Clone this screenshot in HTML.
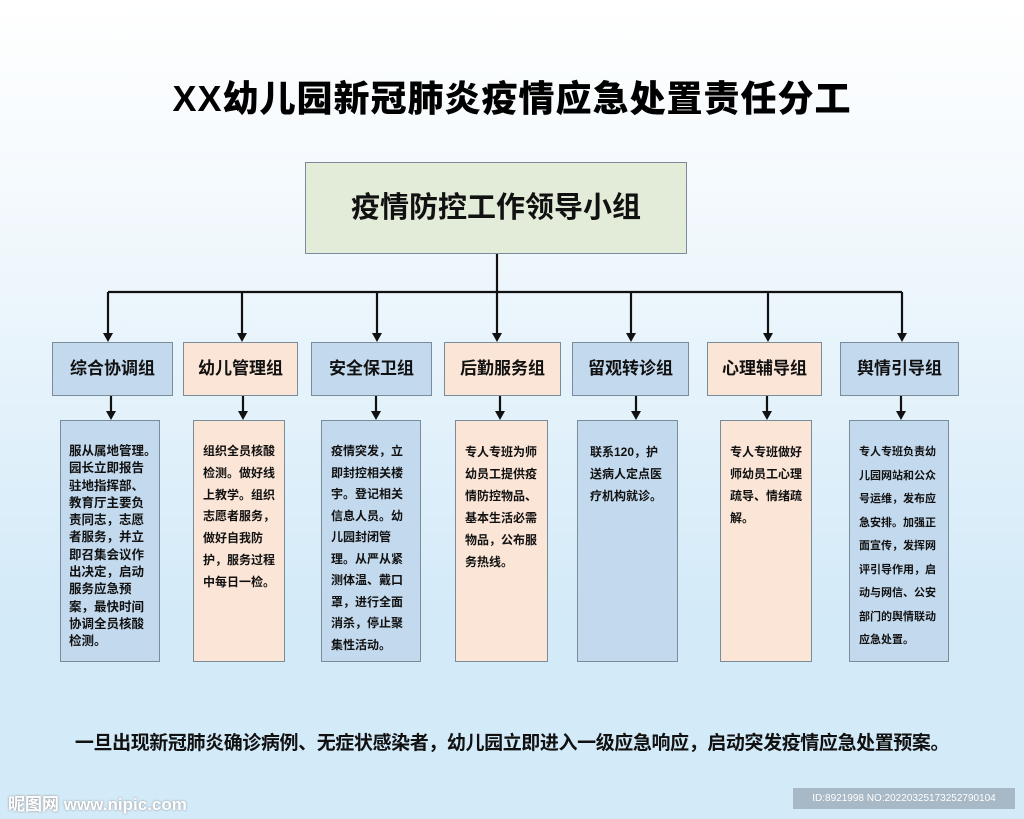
<!DOCTYPE html>
<html><head><meta charset="utf-8"><style>
*{margin:0;padding:0;box-sizing:border-box}
body{width:1024px;height:819px;overflow:hidden;position:relative;background:linear-gradient(180deg,#ffffff 0%,#f3f9fd 25%,#d3eaf8 75%,#d3eaf8 100%);font-family:"Liberation Sans","Noto Sans CJK SC",sans-serif;font-weight:bold;color:#111}
.a{position:absolute}
.title{left:0;width:1024px;top:70px;text-align:center;font-size:36px;font-weight:900;letter-spacing:1px;color:#000}
.top{left:305px;top:162px;width:382px;height:92px;background:#e2ecd8;border:1.5px solid #7a8c99;font-size:29px;text-align:center;line-height:90px}
.h{top:342px;height:54px;border:1.5px solid #7a8c99;font-size:17px;text-align:center;line-height:52px}
.b{top:420px;height:242px;border:1.5px solid #7a8c99;font-size:12px;padding:0 9px}
.bl{background:#c3d9ee}.pe{background:#fbe5d6}
.foot{left:0;width:1024px;top:728px;text-align:center;font-size:19px;letter-spacing:-0.4px}
.wm{left:8px;top:790px;font-size:17px;color:#fff;text-shadow:0 0 2px #888;font-weight:bold}
.id{left:793px;top:788px;width:222px;height:21px;background:#a7b8c6;color:#fff;font-size:10px;font-weight:normal;line-height:21px;text-align:center}
</style></head><body>
<div class="a title">XX幼儿园新冠肺炎疫情应急处置责任分工</div>
<div class="a top">疫情防控工作领导小组</div>
<svg class="a" style="left:0;top:0" width="1024" height="819">
<g stroke="#111" stroke-width="2.2" fill="none">
<line x1="497" y1="254" x2="497" y2="292"/>
<line x1="108" y1="292" x2="902" y2="292"/>
<line x1="108" y1="292" x2="108" y2="334"/><line x1="242" y1="292" x2="242" y2="334"/><line x1="377" y1="292" x2="377" y2="334"/><line x1="497" y1="292" x2="497" y2="334"/><line x1="631" y1="292" x2="631" y2="334"/><line x1="768" y1="292" x2="768" y2="334"/><line x1="902" y1="292" x2="902" y2="334"/>
<line x1="111" y1="396" x2="111" y2="412"/><line x1="243" y1="396" x2="243" y2="412"/><line x1="376" y1="396" x2="376" y2="412"/><line x1="500" y1="396" x2="500" y2="412"/><line x1="636" y1="396" x2="636" y2="412"/><line x1="767" y1="396" x2="767" y2="412"/><line x1="901" y1="396" x2="901" y2="412"/>
</g>
<g fill="#111">
<path d="M103,333h10l-5,9z"/><path d="M237,333h10l-5,9z"/><path d="M372,333h10l-5,9z"/><path d="M492,333h10l-5,9z"/><path d="M626,333h10l-5,9z"/><path d="M763,333h10l-5,9z"/><path d="M897,333h10l-5,9z"/>
<path d="M106,411h10l-5,9z"/><path d="M238,411h10l-5,9z"/><path d="M371,411h10l-5,9z"/><path d="M495,411h10l-5,9z"/><path d="M631,411h10l-5,9z"/><path d="M762,411h10l-5,9z"/><path d="M896,411h10l-5,9z"/>
</g></svg>
<div class="a h bl" style="left:52px;width:121px">综合协调组</div>
<div class="a h pe" style="left:183px;width:115px">幼儿管理组</div>
<div class="a h bl" style="left:311px;width:121px">安全保卫组</div>
<div class="a h pe" style="left:444px;width:117px">后勤服务组</div>
<div class="a h bl" style="left:572px;width:117px">留观转诊组</div>
<div class="a h pe" style="left:707px;width:115px">心理辅导组</div>
<div class="a h bl" style="left:840px;width:119px">舆情引导组</div>

<div class="a b bl" style="left:60px;width:100px;padding:22px 0 0 8px;line-height:17.3px;font-size:12.5px;white-space:nowrap">服从属地管理。<br>园长立即报告<br>驻地指挥部、<br>教育厅主要负<br>责同志，志愿<br>者服务，并立<br>即召集会议作<br>出决定，启动<br>服务应急预<br>案，最快时间<br>协调全员核酸<br>检测。</div>
<div class="a b pe" style="left:193px;width:92px;padding-top:20px;line-height:21.8px">组织全员核酸检测。做好线上教学。组织志愿者服务，做好自我防护，服务过程中每日一检。</div>
<div class="a b bl" style="left:321px;width:100px;padding-top:20px;line-height:21.5px">疫情突发，立即封控相关楼宇。登记相关信息人员。幼儿园封闭管理。从严从紧测体温、戴口罩，进行全面消杀，停止聚集性活动。</div>
<div class="a b pe" style="left:455px;width:93px;padding-top:20px;line-height:22px">专人专班为师幼员工提供疫情防控物品、基本生活必需物品，公布服务热线。</div>
<div class="a b bl" style="left:577px;width:101px;padding:20px 12px 0 12px;line-height:22px">联系120，护送病人定点医疗机构就诊。</div>
<div class="a b pe" style="left:720px;width:92px;padding-top:20px;line-height:22px">专人专班做好师幼员工心理疏导、情绪疏解。</div>
<div class="a b bl" style="left:849px;width:100px;padding-top:20px;line-height:23.5px;font-size:11px">专人专班负责幼儿园网站和公众号运维，发布应急安排。加强正面宣传，发挥网评引导作用，启动与网信、公安部门的舆情联动应急处置。</div>

<div class="a foot">一旦出现新冠肺炎确诊病例、无症状感染者，幼儿园立即进入一级应急响应，启动突发疫情应急处置预案。</div>
<div class="a wm">昵图网 www.nipic.com</div>
<div class="a id">ID:8921998 NO:20220325173252790104</div>
</body></html>
